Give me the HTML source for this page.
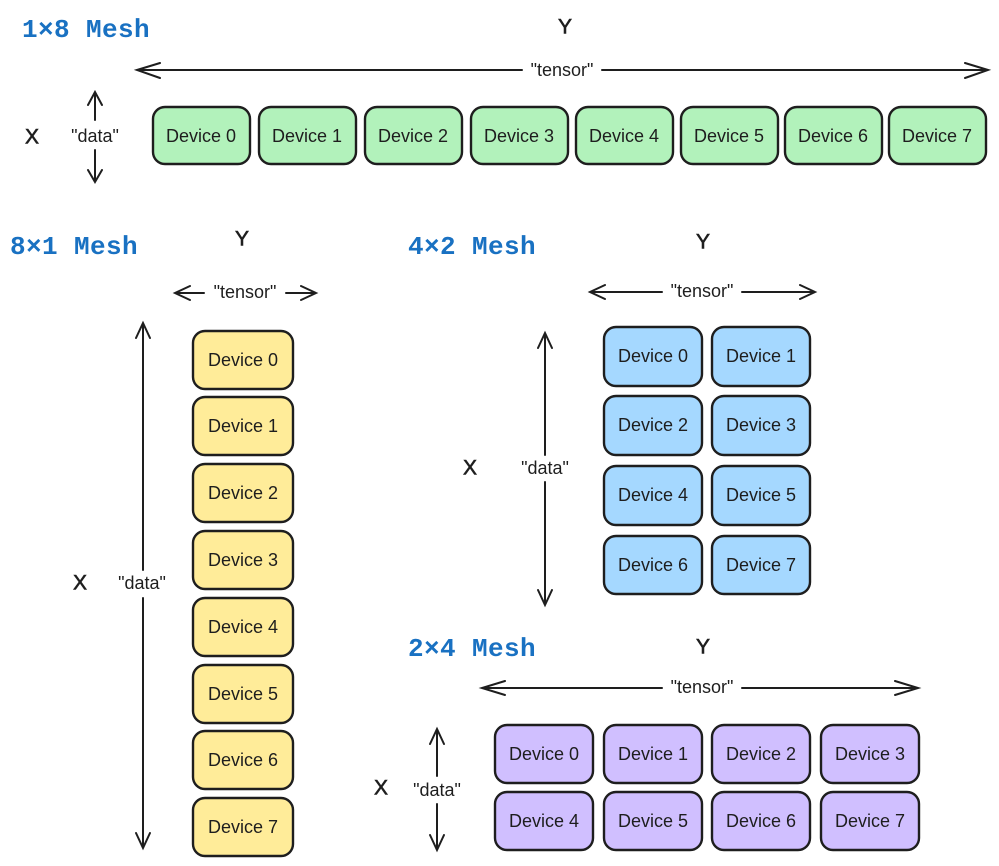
<!DOCTYPE html>
<html><head><meta charset="utf-8"><style>
html,body{margin:0;padding:0;background:#fff}
svg{display:block}
.t{font-family:"Liberation Mono",monospace;font-weight:bold;font-size:26px;letter-spacing:0.4px;fill:#1971c2}
.h{font-family:"Liberation Sans",sans-serif;font-size:18px;fill:#1e1e1e;text-anchor:middle;dominant-baseline:central}
.l{font-family:"Liberation Sans",sans-serif;font-size:21px;fill:#1e1e1e;text-anchor:middle;dominant-baseline:central;stroke:#1e1e1e;stroke-width:0.6}
.a{stroke:#1e1e1e;stroke-width:2;fill:none;stroke-linecap:round}
rect{stroke:#1e1e1e;stroke-width:2.4}
.g{fill:#b2f2bb}.y{fill:#ffec99}.b{fill:#a5d8ff}.p{fill:#d0bfff}
</style></head><body>
<svg width="999" height="866" viewBox="0 0 999 866" xmlns="http://www.w3.org/2000/svg">
<!-- 1x8 -->
<text class="t" x="22" y="37">1×8 Mesh</text>
<text class="l" x="565" y="27">Y</text>
<path class="a" d="M137 70H522M602 70H988M160 63L137 70L160 78M965 63L988 70L965 78"/>
<text class="h" x="562" y="70">"tensor"</text>
<text class="l" x="32" y="137">X</text>
<path class="a" d="M95 92V120M95 150V182M88 105L95 92L102 105M88 170L95 182L102 170"/>
<text class="h" x="95" y="136">"data"</text>
<g>
<rect class="g" x="153" y="107" width="97" height="57" rx="12"/><text class="h" x="201" y="136">Device 0</text>
<rect class="g" x="259" y="107" width="97" height="57" rx="12"/><text class="h" x="307" y="136">Device 1</text>
<rect class="g" x="365" y="107" width="97" height="57" rx="12"/><text class="h" x="413" y="136">Device 2</text>
<rect class="g" x="471" y="107" width="97" height="57" rx="12"/><text class="h" x="519" y="136">Device 3</text>
<rect class="g" x="576" y="107" width="97" height="57" rx="12"/><text class="h" x="624" y="136">Device 4</text>
<rect class="g" x="681" y="107" width="97" height="57" rx="12"/><text class="h" x="729" y="136">Device 5</text>
<rect class="g" x="785" y="107" width="97" height="57" rx="12"/><text class="h" x="833" y="136">Device 6</text>
<rect class="g" x="889" y="107" width="97" height="57" rx="12"/><text class="h" x="937" y="136">Device 7</text>
</g>
<!-- 8x1 -->
<text class="t" x="10" y="254">8×1 Mesh</text>
<text class="l" x="242" y="239">Y</text>
<path class="a" d="M175 293H204M286 293H316M190 286L175 293L190 300M301 286L316 293L301 300"/>
<text class="h" x="245" y="292">"tensor"</text>
<text class="l" x="80" y="583">X</text>
<path class="a" d="M143 323V570M143 598V848M136 338L143 323L150 338M136 833L143 848L150 833"/>
<text class="h" x="142" y="583">"data"</text>
<rect class="y" x="193" y="331" width="100" height="58" rx="12"/><text class="h" x="243" y="360">Device 0</text>
<rect class="y" x="193" y="397" width="100" height="58" rx="12"/><text class="h" x="243" y="426">Device 1</text>
<rect class="y" x="193" y="464" width="100" height="58" rx="12"/><text class="h" x="243" y="493">Device 2</text>
<rect class="y" x="193" y="531" width="100" height="58" rx="12"/><text class="h" x="243" y="560">Device 3</text>
<rect class="y" x="193" y="598" width="100" height="58" rx="12"/><text class="h" x="243" y="627">Device 4</text>
<rect class="y" x="193" y="665" width="100" height="58" rx="12"/><text class="h" x="243" y="694">Device 5</text>
<rect class="y" x="193" y="731" width="100" height="58" rx="12"/><text class="h" x="243" y="760">Device 6</text>
<rect class="y" x="193" y="798" width="100" height="58" rx="12"/><text class="h" x="243" y="827">Device 7</text>
<!-- 4x2 -->
<text class="t" x="408" y="254">4×2 Mesh</text>
<text class="l" x="703" y="242">Y</text>
<path class="a" d="M590 292H662M742 292H815M605 285L590 292L605 299M800 285L815 292L800 299"/>
<text class="h" x="702" y="291">"tensor"</text>
<text class="l" x="470" y="468">X</text>
<path class="a" d="M545 333V455M545 482V605M538 348L545 333L552 348M538 590L545 605L552 590"/>
<text class="h" x="545" y="468">"data"</text>
<rect class="b" x="604" y="327" width="98" height="59" rx="12"/><text class="h" x="653" y="356">Device 0</text>
<rect class="b" x="712" y="327" width="98" height="59" rx="12"/><text class="h" x="761" y="356">Device 1</text>
<rect class="b" x="604" y="396" width="98" height="59" rx="12"/><text class="h" x="653" y="425">Device 2</text>
<rect class="b" x="712" y="396" width="98" height="59" rx="12"/><text class="h" x="761" y="425">Device 3</text>
<rect class="b" x="604" y="466" width="98" height="59" rx="12"/><text class="h" x="653" y="495">Device 4</text>
<rect class="b" x="712" y="466" width="98" height="59" rx="12"/><text class="h" x="761" y="495">Device 5</text>
<rect class="b" x="604" y="536" width="98" height="58" rx="12"/><text class="h" x="653" y="565">Device 6</text>
<rect class="b" x="712" y="536" width="98" height="58" rx="12"/><text class="h" x="761" y="565">Device 7</text>
<!-- 2x4 -->
<text class="t" x="408" y="656">2×4 Mesh</text>
<text class="l" x="703" y="647">Y</text>
<path class="a" d="M482 688H662M742 688H918M505 681L482 688L505 695M895 681L918 688L895 695"/>
<text class="h" x="702" y="687">"tensor"</text>
<text class="l" x="381" y="788">X</text>
<path class="a" d="M437 729V776M437 804V850M430 744L437 729L444 744M430 835L437 850L444 835"/>
<text class="h" x="437" y="790">"data"</text>
<rect class="p" x="495" y="725" width="98" height="58" rx="12"/><text class="h" x="544" y="754">Device 0</text>
<rect class="p" x="604" y="725" width="98" height="58" rx="12"/><text class="h" x="653" y="754">Device 1</text>
<rect class="p" x="712" y="725" width="98" height="58" rx="12"/><text class="h" x="761" y="754">Device 2</text>
<rect class="p" x="821" y="725" width="98" height="58" rx="12"/><text class="h" x="870" y="754">Device 3</text>
<rect class="p" x="495" y="792" width="98" height="58" rx="12"/><text class="h" x="544" y="821">Device 4</text>
<rect class="p" x="604" y="792" width="98" height="58" rx="12"/><text class="h" x="653" y="821">Device 5</text>
<rect class="p" x="712" y="792" width="98" height="58" rx="12"/><text class="h" x="761" y="821">Device 6</text>
<rect class="p" x="821" y="792" width="98" height="58" rx="12"/><text class="h" x="870" y="821">Device 7</text>
</svg>
</body></html>
